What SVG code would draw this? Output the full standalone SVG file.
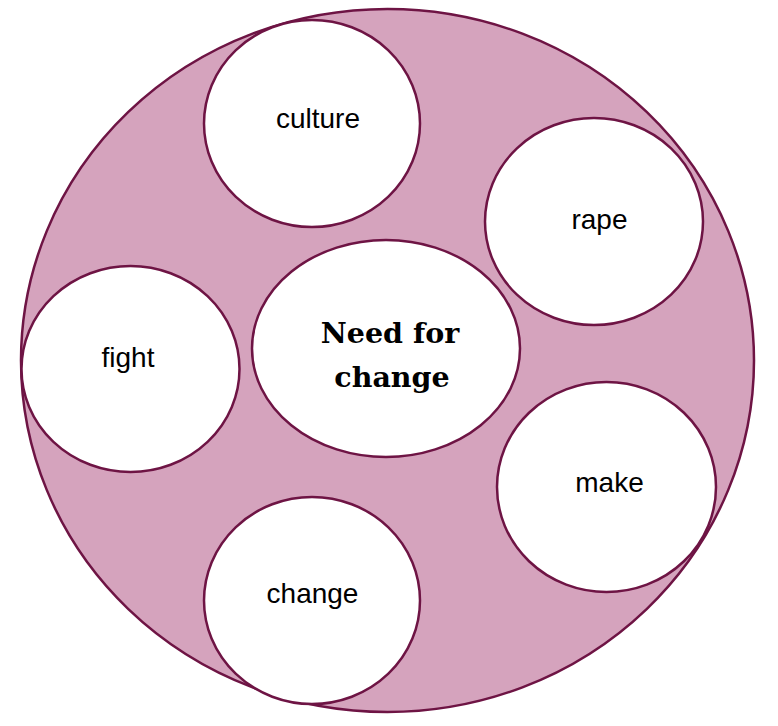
<svg xmlns="http://www.w3.org/2000/svg" width="778" height="726" viewBox="0 0 778 726">
<style>
.bg{fill:#d5a3bd;stroke:#6e1444;stroke-width:2.5}
.n{fill:#ffffff;stroke:#6e1444;stroke-width:2.5}
.t{font-family:"Liberation Sans",Arial,sans-serif;font-size:28px;fill:#000;text-anchor:middle}
.c{font-family:"DejaVu Serif","Liberation Serif",serif;font-weight:bold;font-size:28.5px;fill:#000;text-anchor:middle}
</style>
<g id="outer"><ellipse class="bg" cx="387.5" cy="360.5" rx="366.5" ry="351.5"/></g>
<g id="connectors"></g>
<g id="culture"><ellipse class="n" cx="312" cy="123.5" rx="108" ry="103.5"/><text class="t" x="318" y="128">culture</text></g>
<g id="rape"><ellipse class="n" cx="594" cy="221.5" rx="109" ry="103.5"/><text class="t" x="599.5" y="229">rape</text></g>
<g id="fight"><ellipse class="n" cx="130.5" cy="369" rx="109" ry="103"/><text class="t" x="128" y="367">fight</text></g>
<g id="center"><ellipse class="n" cx="386" cy="348.5" rx="134" ry="108.5"/><text class="c" x="390" y="343">Need for</text><text class="c" x="392" y="387">change</text></g>
<g id="make"><ellipse class="n" cx="606.5" cy="487" rx="109.5" ry="105"/><text class="t" x="609.5" y="492">make</text></g>
<g id="change"><ellipse class="n" cx="312" cy="600.5" rx="108" ry="103.5"/><text class="t" x="312.5" y="603">change</text></g>
</svg>
